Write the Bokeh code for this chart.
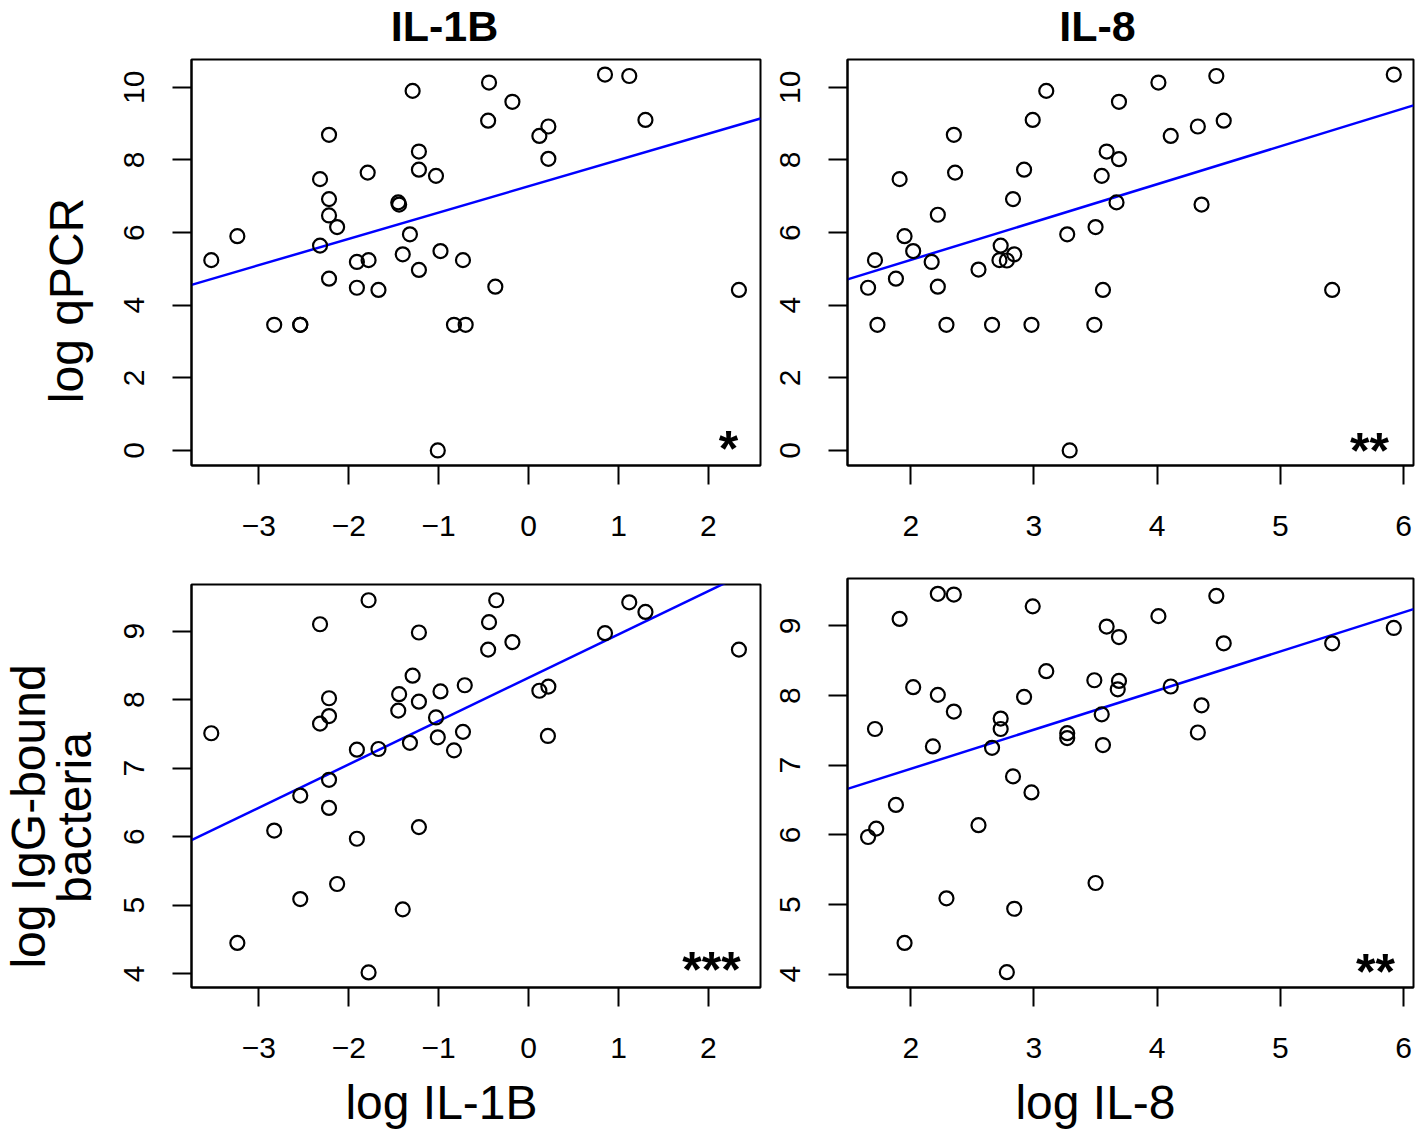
from bokeh.plotting import figure
from bokeh.models import Label, FixedTicker, Range1d
from bokeh.layouts import column, row
from bokeh.embed import file_html
from bokeh.resources import INLINE

# ---------------- data ----------------
# top-left: log IL-1B vs log qPCR
tl_il1b = [-3.53, -3.24, -2.83, -2.54, -2.54, -2.32, -2.22, -2.22, -2.22, -2.13, -2.32, -2.22,
           -1.91, -1.78, -1.91, -1.67, -1.79, -1.45, -1.44, -1.29, -1.22, -1.22, -1.03, -1.32,
           -1.40, -1.22, -0.98, -0.73, -0.83, -0.70, -1.01, -0.44, -0.18, -0.45, 0.22, 0.12,
           0.22, 0.85, 1.12, 1.30, -0.37, 2.34]
tl_qpcr = [5.24, 5.90, 3.46, 3.46, 3.46, 7.47, 8.69, 6.92, 6.47, 6.15, 5.64, 4.73,
           5.19, 5.24, 4.48, 4.42, 7.65, 6.83, 6.77, 9.90, 8.23, 7.73, 7.56, 5.95,
           5.40, 4.97, 5.49, 5.24, 3.46, 3.46, 0.00, 10.13, 9.60, 9.08, 8.92, 8.66,
           8.03, 10.35, 10.31, 9.10, 4.51, 4.42]

# top-right: log IL-8 vs log qPCR
tr_il8 = [1.654, 1.71, 1.73, 1.88, 1.91, 1.95, 2.02, 2.22, 2.17, 2.22, 2.29, 2.35,
          2.36, 2.55, 2.66, 2.73, 2.72, 2.78, 2.84, 2.83, 2.92, 2.98, 2.99, 3.10,
          3.27, 3.29, 3.50, 3.49, 3.55, 3.56, 3.59, 3.69, 3.69, 3.67, 4.01, 4.11,
          4.33, 4.48, 4.54, 4.36, 5.42, 5.92]
tr_qpcr = [4.48, 5.24, 3.46, 4.73, 7.47, 5.90, 5.49, 6.49, 5.19, 4.51, 3.46, 8.69,
           7.65, 4.98, 3.46, 5.64, 5.24, 5.23, 5.40, 6.92, 7.73, 3.46, 9.10, 9.90,
           5.95, 0.00, 6.15, 3.46, 7.56, 4.42, 8.23, 8.02, 9.60, 6.83, 10.13, 8.66,
           8.92, 10.31, 9.08, 6.77, 4.42, 10.35]

# bottom-left: log IL-1B vs log IgG-bound bacteria
bl_il1b = [-3.53, -3.24, -2.83, -2.54, -2.54, -2.32, -2.32, -2.22, -2.22, -2.22, -2.22, -2.13,
           -1.91, -1.91, -1.78, -1.78, -1.67, -1.44, -1.45, -1.40, -1.32, -1.29, -1.22, -1.22,
           -1.22, -0.98, -1.03, -1.01, -0.83, -0.73, -0.71, -0.36, -0.44, -0.45, -0.18, 0.12,
           0.22, 0.215, 0.85, 1.12, 1.30, 2.34]
bl_igg = [7.51, 4.45, 6.09, 6.60, 5.09, 9.10, 7.65, 8.02, 7.76, 6.83, 6.42, 5.31,
          7.27, 5.97, 9.45, 4.02, 7.28, 8.08, 7.84, 4.94, 7.37, 8.35, 8.98, 7.97,
          6.14, 8.12, 7.74, 7.45, 7.26, 7.53, 8.21, 9.45, 9.13, 8.73, 8.84, 8.13,
          8.19, 7.47, 8.97, 9.42, 9.28, 8.73]

# bottom-right: log IL-8 vs log IgG-bound bacteria
br_il8 = [1.654, 1.72, 1.88, 1.91, 1.71, 1.95, 2.02, 2.18, 2.22, 2.22, 2.29, 2.35,
          2.35, 2.55, 2.66, 2.73, 2.73, 2.78, 2.83, 2.84, 2.92, 2.98, 2.99, 3.10,
          3.27, 3.27, 3.49, 3.50, 3.55, 3.56, 3.59, 3.69, 3.69, 3.68, 4.01, 4.11,
          4.33, 4.36, 4.48, 4.54, 5.42, 5.92]
br_igg = [5.97, 6.09, 6.43, 9.10, 7.52, 4.45, 8.12, 7.27, 9.46, 8.01, 5.09, 9.45,
          7.77, 6.14, 7.25, 7.67, 7.52, 4.03, 6.84, 4.94, 7.98, 6.61, 9.28, 8.35,
          7.46, 7.39, 8.22, 5.31, 7.73, 7.29, 8.99, 8.84, 8.21, 8.09, 9.14, 8.13,
          7.47, 7.86, 9.43, 8.75, 8.75, 8.97]

# regression lines (end points)
tl_fit_x = [-3.75, 2.58]
tl_fit_y = [4.56, 9.14]
tr_fit_x = [1.487, 6.08]
tr_fit_y = [4.71, 9.50]
bl_fit_x = [-3.75, 2.58]
bl_fit_y = [5.95, 9.95]
br_fit_x = [1.487, 6.08]
br_fit_y = [6.66, 9.24]

# significance marks
tl_sig = "*"
tr_sig = "**"
bl_sig = "***"
br_sig = "**"

# ticks and tick labels
il1b_ticks = [-3, -2, -1, 0, 1, 2]
il1b_tick_labels = ["\u22123", "\u22122", "\u22121", "0", "1", "2"]
il8_ticks = [2, 3, 4, 5, 6]
il8_tick_labels = ["2", "3", "4", "5", "6"]
qpcr_ticks = [0, 2, 4, 6, 8, 10]
qpcr_tick_labels = ["0", "2", "4", "6", "8", "10"]
igg_ticks = [4, 5, 6, 7, 8, 9]
igg_tick_labels = ["4", "5", "6", "7", "8", "9"]

# text
col_titles = ["IL-1B", "IL-8"]
x_titles = ["log IL-1B", "log IL-8"]
y_title_top = "log qPCR"
y_title_bottom = ["log IgG-bound", "bacteria"]

# ---------------- styling / layout ----------------
FONT = "Liberation Sans"
IL1B_RANGE = (-3.75, 2.58)
IL8_RANGE = (1.487, 6.08)
QPCR_RANGE = (-0.414, 10.764)
IGG_RANGE_L = (3.80, 9.68)
IGG_RANGE_R = (3.81, 9.68)

LEFT_W = 102          # strip holding the y titles
TOP_H = 52            # strip holding the column titles
BOTTOM_H = 55         # strip holding the x titles
TOTAL_W = 1416
TOTAL_H = 1130


def make_panel(x, y, fx, fy, xr, yr, xt, xl, yt, yl, fw, fh, bl, br, bt, bb):
    p = figure(frame_width=fw, frame_height=fh, x_range=xr, y_range=yr,
               min_border_left=bl, min_border_right=br, min_border_top=bt, min_border_bottom=bb,
               output_backend="svg", toolbar_location=None, tools="")
    p.grid.visible = False
    p.outline_line_color = "black"
    p.outline_line_width = 2
    p.background_fill_color = "white"
    p.border_fill_color = "white"
    for ax, ticks, labels, standoff in ((p.xaxis, xt, xl, 31), (p.yaxis, yt, yl, 28)):
        ax.ticker = FixedTicker(ticks=ticks)
        ax.major_label_overrides = {t: l for t, l in zip(ticks, labels)}
        ax.minor_tick_line_color = None
        ax.major_tick_in = 0
        ax.major_tick_out = 19
        ax.major_tick_line_width = 2
        ax.major_tick_line_color = "black"
        ax.axis_line_width = 2
        ax.axis_line_color = "black"
        ax.major_label_text_font = FONT
        ax.major_label_text_font_size = "30px"
        ax.major_label_text_color = "black"
        ax.major_label_standoff = standoff
    p.yaxis.major_label_orientation = "vertical"
    p.line(fx, fy, line_color="#0000ff", line_width=2.5)
    p.scatter(x, y, marker="circle", size=14, fill_color=None,
              line_color="black", line_width=2.2)
    p._geom = (xr, yr, fw, fh)
    return p


def add_star(p, text, fx_from_left, fy_from_top, size="50px"):
    xr, yr, fw, fh = p._geom
    dx = xr[0] + fx_from_left / fw * (xr[1] - xr[0])
    dy = yr[1] - fy_from_top / fh * (yr[1] - yr[0])
    p.add_layout(Label(x=dx, y=dy, text=text, text_align="center", text_baseline="middle",
                       text_font=FONT, text_font_size=size, text_font_style="bold",
                       text_color="black"))


def text_strip(w, h, x0, y0):
    # a blank plot whose data units are page pixels
    s = figure(frame_width=w, frame_height=h, x_range=Range1d(x0, x0 + w),
               y_range=Range1d(y0 + h, y0), min_border=0, x_axis_location=None,
               y_axis_location=None, output_backend="svg", toolbar_location=None, tools="")
    s.grid.visible = False
    s.outline_line_color = None
    s.background_fill_color = "white"
    s.border_fill_color = "white"
    return s


def add_text(s, text, px, py, size, bold=False, angle=0.0):
    s.add_layout(Label(x=px, y=py, text=text, angle=angle, text_align="center",
                       text_baseline="middle", text_font=FONT, text_font_size=size,
                       text_font_style="bold" if bold else "normal", text_color="black"))


# panels: frame left edges at 191 / 847, frame tops at 59 / 584 / 578
p_tl = make_panel(tl_il1b, tl_qpcr, tl_fit_x, tl_fit_y, IL1B_RANGE, QPCR_RANGE,
                  il1b_ticks, il1b_tick_labels, qpcr_ticks, qpcr_tick_labels,
                  569, 406, 89, 2, 7, 99)
p_tr = make_panel(tr_il8, tr_qpcr, tr_fit_x, tr_fit_y, IL8_RANGE, QPCR_RANGE,
                  il8_ticks, il8_tick_labels, qpcr_ticks, qpcr_tick_labels,
                  566, 406, 85, 3, 7, 99)
p_bl = make_panel(bl_il1b, bl_igg, bl_fit_x, bl_fit_y, IL1B_RANGE, IGG_RANGE_L,
                  il1b_ticks, il1b_tick_labels, igg_ticks, igg_tick_labels,
                  569, 403, 89, 2, 20, 88)
p_br = make_panel(br_il8, br_igg, br_fit_x, br_fit_y, IL8_RANGE, IGG_RANGE_R,
                  il8_ticks, il8_tick_labels, igg_ticks, igg_tick_labels,
                  566, 409, 85, 3, 14, 88)

# significance stars (frame-relative pixels)
add_star(p_tl, tl_sig, 537, 389)
add_star(p_tr, tr_sig, 522, 391)
add_star(p_bl, bl_sig, 520, 385)
add_star(p_br, br_sig, 528, 393)

right_w = TOTAL_W - LEFT_W
top_strip = text_strip(right_w, TOP_H, LEFT_W, 0)
bottom_strip = text_strip(right_w, BOTTOM_H, LEFT_W, TOTAL_H - BOTTOM_H)
left_strip = text_strip(LEFT_W, TOTAL_H, 0, 0)

add_text(top_strip, col_titles[0], 444, 25, "43px", bold=True)
add_text(top_strip, col_titles[1], 1097, 25, "43px", bold=True)
add_text(bottom_strip, x_titles[0], 441, 1102, "48px")
add_text(bottom_strip, x_titles[1], 1095, 1102, "48px")
add_text(left_strip, y_title_top, 66, 300, "48px", angle=1.5708)
add_text(left_strip, y_title_bottom[0], 28, 816, "48px", angle=1.5708)
add_text(left_strip, y_title_bottom[1], 74, 817, "48px", angle=1.5708)

panels = row(column(p_tl, p_bl), column(p_tr, p_br))
layout = row(left_strip, column(top_strip, panels, bottom_strip))
open("out.html", "w").write(file_html(layout, INLINE))
